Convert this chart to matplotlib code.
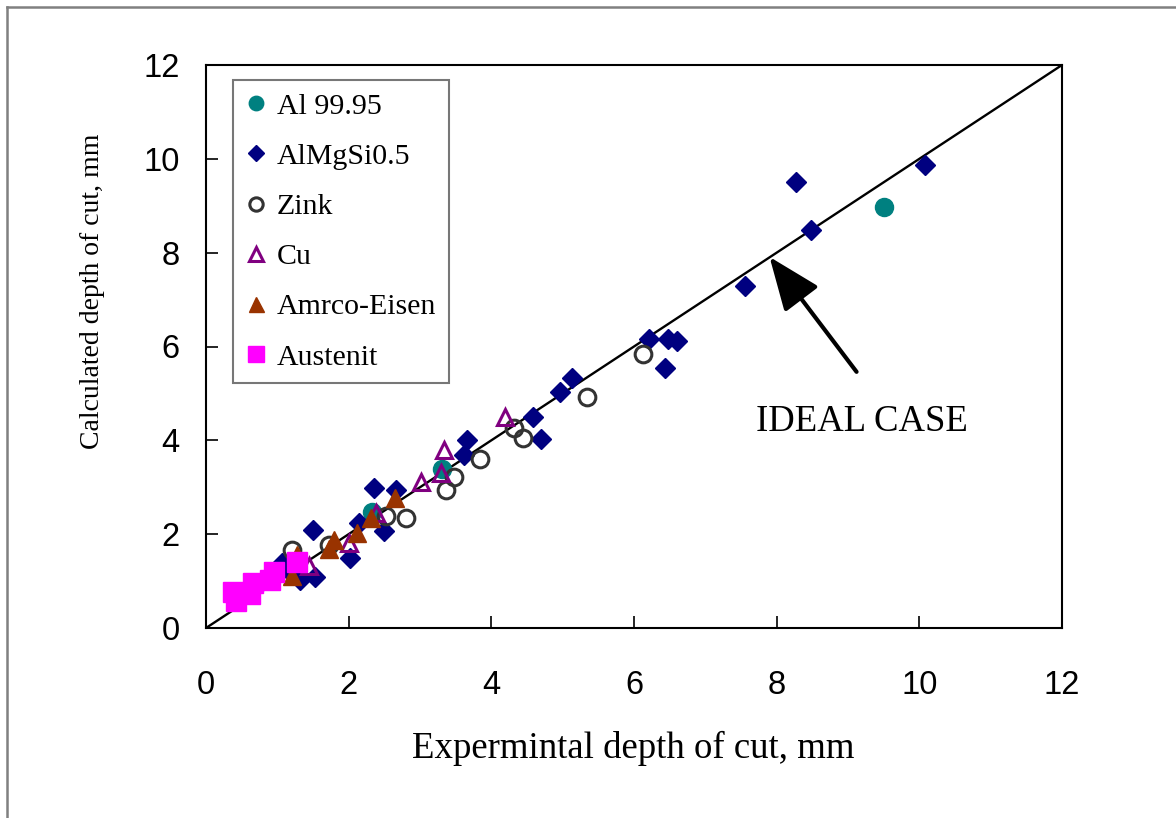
import matplotlib
matplotlib.use('Agg')
import matplotlib.pyplot as plt
from matplotlib.lines import Line2D

al_x = [9.51, 3.31, 2.33]
al_y = [8.97, 3.38, 2.48]

almg_x = [10.08, 8.27, 8.48, 7.56, 6.21, 6.48, 6.60, 6.44, 5.13, 4.96, 4.59, 4.69,
          3.66, 3.61, 2.35, 2.67, 2.15, 2.49, 1.50, 2.02, 1.53, 1.32, 1.06, 1.20]
almg_y = [9.87, 9.51, 8.48, 7.29, 6.17, 6.17, 6.12, 5.55, 5.32, 5.04, 4.49, 4.02,
          4.01, 3.69, 2.98, 2.94, 2.23, 2.07, 2.09, 1.50, 1.09, 1.02, 1.38, 1.15]

zink_x = [6.12, 5.34, 4.32, 4.45, 3.84, 3.48, 3.36, 2.52, 2.81, 1.72, 1.21]
zink_y = [5.84, 4.93, 4.27, 4.04, 3.60, 3.21, 2.94, 2.39, 2.35, 1.77, 1.67]

cu_x = [4.19, 3.34, 3.29, 3.01, 2.38, 2.00, 1.45]
cu_y = [4.50, 3.79, 3.31, 3.12, 2.45, 1.81, 1.33]

amrco_x = [2.65, 2.32, 2.11, 1.79, 1.72, 1.27, 1.20]
amrco_y = [2.78, 2.34, 2.02, 1.88, 1.68, 1.55, 1.10]

aus_x = [0.38, 0.42, 0.62, 0.66, 0.90, 0.95, 1.27]
aus_y = [0.76, 0.58, 0.72, 0.95, 1.02, 1.20, 1.40]

ticks = [0, 2, 4, 6, 8, 10, 12]

serif = 'Liberation Serif'
sans = 'Liberation Sans'

fig = plt.figure(figsize=(11.76, 8.18), dpi=100)
ax = fig.add_axes([206 / 1176, 1 - 628 / 818, 856 / 1176, 563 / 818])

ax.plot([0, 12], [0, 12], color='black', lw=1.7, zorder=1)

ax.plot(al_x, al_y, 'o', ms=13, color='#008080', mec='#008080', label='Al 99.95', zorder=3)
ax.plot(almg_x, almg_y, 'D', ms=9.8, color='#000080', mec='#000080', label='AlMgSi0.5', zorder=3)
ax.plot(zink_x, zink_y, 'o', ms=12, mfc='none', mec='#333333', mew=2.2, label='Zink', zorder=3)
ax.plot(cu_x, cu_y, '^', ms=12, mfc='none', mec='#800080', mew=2.2, label='Cu', zorder=3)
ax.plot(amrco_x, amrco_y, '^', ms=13.5, color='#993300', mec='#993300', label='Amrco-Eisen', zorder=3)
ax.plot(aus_x, aus_y, 's', ms=14, color='#FF00FF', mec='#FF00FF', label='Austenit', zorder=3)

ax.set_xlim(0, 12)
ax.set_ylim(0, 12)
ax.set_xticks(ticks)
ax.set_yticks(ticks)
ax.tick_params(direction='in', length=8.5, width=1.2)
ax.tick_params(axis='x', pad=30)
ax.tick_params(axis='y', pad=19)
for lab in ax.get_xticklabels() + ax.get_yticklabels():
    lab.set_fontfamily(sans)
    lab.set_fontsize(23.5)
for s in ax.spines.values():
    s.set_linewidth(1.5)

fig.text(633 / 1176, 1 - 748 / 818, 'Expermintal depth of cut, mm', family=serif,
         fontsize=26.5, ha='center', va='center')
fig.text(93 / 1176, 1 - 291 / 818, 'Calculated depth of cut, mm', family=serif,
         fontsize=20, ha='center', va='center', rotation=90)

ax.annotate('', xy=(7.9, 7.91), xytext=(9.12, 5.46),
            arrowprops=dict(arrowstyle='-|>,head_length=1.5,head_width=0.6', color='black',
                            lw=3, shrinkA=0, shrinkB=0, mutation_scale=22))
ax.text(9.2, 4.4, 'IDEAL CASE', family=serif, fontsize=26.5, ha='center', va='center')

leg = ax.legend(loc='upper left', bbox_to_anchor=(0.0315, 0.973), borderaxespad=0,
                prop={'family': serif, 'size': 21.5}, markerscale=0.8, handlelength=0.7,
                handletextpad=0.35, labelspacing=0.78, borderpad=0.42, fancybox=False,
                frameon=True)
leg.get_frame().set_edgecolor('#555555')
leg.get_frame().set_linewidth(1.5)

# outer chart-area border (only top and left are visible in the reference)
fig.add_artist(Line2D([7 / 1176, 1], [1 - 7 / 818, 1 - 7 / 818], transform=fig.transFigure,
                      color='#808080', lw=1.8))
fig.add_artist(Line2D([7 / 1176, 7 / 1176], [0, 1 - 7 / 818], transform=fig.transFigure,
                      color='#808080', lw=1.8))

fig.savefig('out.png', dpi=100)
